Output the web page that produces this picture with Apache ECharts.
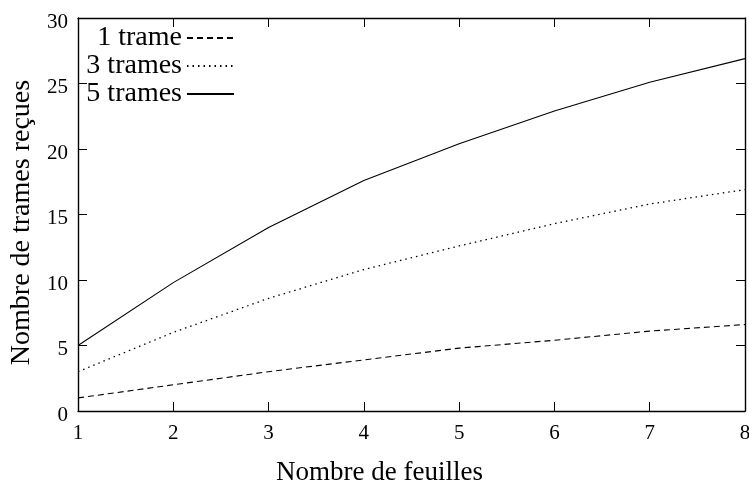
<!DOCTYPE html>
<html><head><meta charset="utf-8">
<script src="https://cdn.jsdelivr.net/npm/echarts@6/dist/echarts.min.js"></script>
<style>html,body{margin:0;padding:0;background:#fff}#c{width:749px;height:482px}</style>
</head><body><div id="c"></div>
<script>
const feuilles = [1, 2, 3, 4, 5, 6, 7, 8];
const trame1 = [1, 2, 3, 3.9, 4.8, 5.4, 6.1, 6.6];
const trames3 = [3, 6, 8.6, 10.8, 12.6, 14.3, 15.8, 16.9];
const trames5 = [5, 9.8, 14, 17.6, 20.4, 22.9, 25.1, 26.9];
const names = ['1 trame', '3 trames', '5 trames'];
const yTicks = [0, 5, 10, 15, 20, 25, 30];

const FONT = '"Liberation Serif", "DejaVu Serif", serif';
const pairs = v => feuilles.map((x, i) => [x, v[i]]);
const chart = echarts.init(document.getElementById('c'));
const axisBase = {
  type: 'value',
  axisLine: {show: true, onZero: false, lineStyle: {color: '#000', width: 1.4}},
  axisTick: {show: true, inside: true, length: 9, lineStyle: {color: '#000'}},
  splitLine: {show: false},
};
const legendBase = (i, top) => ({
  data: [names[i]], orient: 'vertical', align: 'right', right: 514, top: top,
  itemWidth: 47, itemHeight: 14, itemGap: 0, padding: 0,
  itemStyle: {opacity: 0},
  textStyle: {fontFamily: FONT, fontSize: 28, lineHeight: 28, color: '#000'}
});
chart.setOption({
  animation: false,
  backgroundColor: '#fff',
  grid: {left: 78, right: 4, top: 18, bottom: 71, containLabel: false, outerBoundsMode: 'none'},
  legend: [legendBase(0, 24), legendBase(1, 52), legendBase(2, 80)],
  xAxis: [
    Object.assign({}, axisBase, {min: 1, max: 8, interval: 1, position: 'bottom',
      name: 'Nombre de feuilles', nameLocation: 'middle', nameGap: 48,
      nameTextStyle: {fontFamily: FONT, fontSize: 27, color: '#000', padding: [0, 64, 0, 0]},
      axisLabel: {fontFamily: FONT, fontSize: 21, color: '#000', margin: 12}}),
    Object.assign({}, axisBase, {min: 1, max: 8, interval: 1, position: 'top', axisLabel: {show: false}})
  ],
  yAxis: [
    Object.assign({}, axisBase, {min: 0, max: 30, interval: 5, position: 'left',
      name: 'Nombre de trames reçues', nameLocation: 'middle', nameGap: 42,
      nameTextStyle: {fontFamily: FONT, fontSize: 28, color: '#000', padding: [0, 16, 0, 0]},
      axisLabel: {fontFamily: FONT, fontSize: 21, color: '#000', margin: 10,
        formatter: v => yTicks.includes(v) ? '{a|' + v + '}' : '',
        rich: {a: {fontFamily: FONT, fontSize: 21, color: '#000', padding: [8, 0, 0, 0]}}}}),
    Object.assign({}, axisBase, {min: 0, max: 30, interval: 5, position: 'right', axisLabel: {show: false}})
  ],
  series: [
    {name: names[0], type: 'line', data: pairs(trame1), symbol: 'none',
      lineStyle: {color: '#000', width: 1.1, type: [6, 4]}, itemStyle: {color: '#000'}},
    {name: names[1], type: 'line', data: pairs(trames3), symbol: 'none',
      lineStyle: {color: '#000', width: 1.3, type: [1.5, 4]}, itemStyle: {color: '#000'}},
    {name: names[2], type: 'line', data: pairs(trames5), symbol: 'none',
      lineStyle: {color: '#000', width: 1.1, type: 'solid'}, itemStyle: {color: '#000'}}
  ]
});
</script></body></html>
